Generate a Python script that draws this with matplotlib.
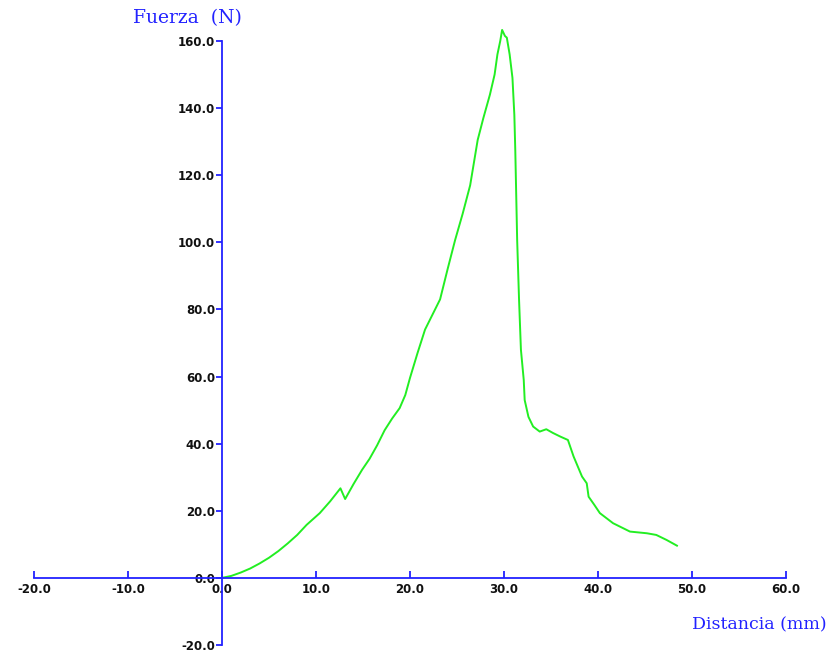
import matplotlib.pyplot as plt
from matplotlib.ticker import FormatStrFormatter

# force vs. displacement curve
distancia = [0.0, 1.0, 2.0, 3.0, 4.0, 5.0, 6.0, 7.0, 8.0, 9.0, 10.4, 11.5,
             12.6, 13.1, 14.0, 14.9, 15.7, 16.5, 17.3, 18.1, 18.9, 19.5,
             20.0, 20.8, 21.6, 22.4, 23.2, 24.0, 24.8, 25.6, 26.4, 27.2,
             27.8, 28.5, 29.0, 29.3, 29.6, 29.8, 30.1, 30.3, 30.6, 30.9,
             31.1, 31.2, 31.4, 31.6, 31.8, 32.1, 32.2, 32.6, 33.1, 33.8,
             34.5, 35.2, 36.0, 36.8, 37.4, 38.3, 38.8, 39.0, 39.6, 40.2,
             41.6, 43.4, 45.2, 46.2, 47.3, 48.4]
fuerza = [0.0, 0.6, 1.6, 2.8, 4.3, 6.0, 8.0, 10.3, 12.8, 15.8, 19.3, 22.8,
          26.7, 23.5, 28.0, 32.2, 35.5, 39.5, 44.0, 47.5, 50.6, 54.5,
          59.6, 67.0, 74.0, 78.5, 83.0, 92.0, 100.7, 108.5, 117.0, 130.5,
          137.0, 144.0, 150.0, 156.0, 160.0, 163.3, 161.5, 161.0, 156.0, 149.0,
          138.0, 127.5, 100.7, 83.0, 68.0, 59.0, 53.0, 48.0, 45.1, 43.6,
          44.3, 43.2, 42.1, 41.1, 36.2, 30.2, 28.2, 24.2, 21.8, 19.3,
          16.3, 13.8, 13.3, 12.8, 11.3, 9.6]

x_ticks = [-20, -10, 0, 10, 20, 30, 40, 50, 60]
y_ticks = [-20, 0, 20, 40, 60, 80, 100, 120, 140, 160]

blue = "#2222ff"

fig = plt.figure(figsize=(8.29, 6.57), dpi=100)
ax = fig.add_axes([34 / 829, 12 / 657, 752 / 829, 604 / 657])

ax.plot(distancia, fuerza, color="#22ee22", lw=1.4, clip_on=False)

ax.set_xlim(-20, 60)
ax.set_ylim(-20, 160)
ax.set_xticks(x_ticks)
ax.set_yticks(y_ticks)
ax.xaxis.set_major_formatter(FormatStrFormatter("%.1f"))
ax.yaxis.set_major_formatter(FormatStrFormatter("%.1f"))

for side in ("top", "right"):
    ax.spines[side].set_visible(False)
ax.spines["left"].set_position(("data", 0))
ax.spines["bottom"].set_position(("data", 0))
for side in ("left", "bottom"):
    ax.spines[side].set_color(blue)
    ax.spines[side].set_linewidth(1.3)

ax.tick_params(axis="x", direction="in", length=5, color=blue, width=1.3,
               labelsize=8.5, pad=4)
ax.tick_params(axis="y", direction="out", length=4, color=blue, width=1.3,
               labelsize=8.5, pad=1)
for lab in ax.get_xticklabels() + ax.get_yticklabels():
    lab.set_color("#111111")
    lab.set_fontweight("semibold")

fig.text(133 / 829, 1 - 18 / 657, "Fuerza  (N)", color=blue, fontsize=13.5,
         family="DejaVu Serif", va="center", ha="left")
fig.text(827 / 829, 1 - 625 / 657, "Distancia (mm)", color=blue, fontsize=12.5,
         family="DejaVu Serif", va="center", ha="right")

fig.savefig("out.png", dpi=100)
